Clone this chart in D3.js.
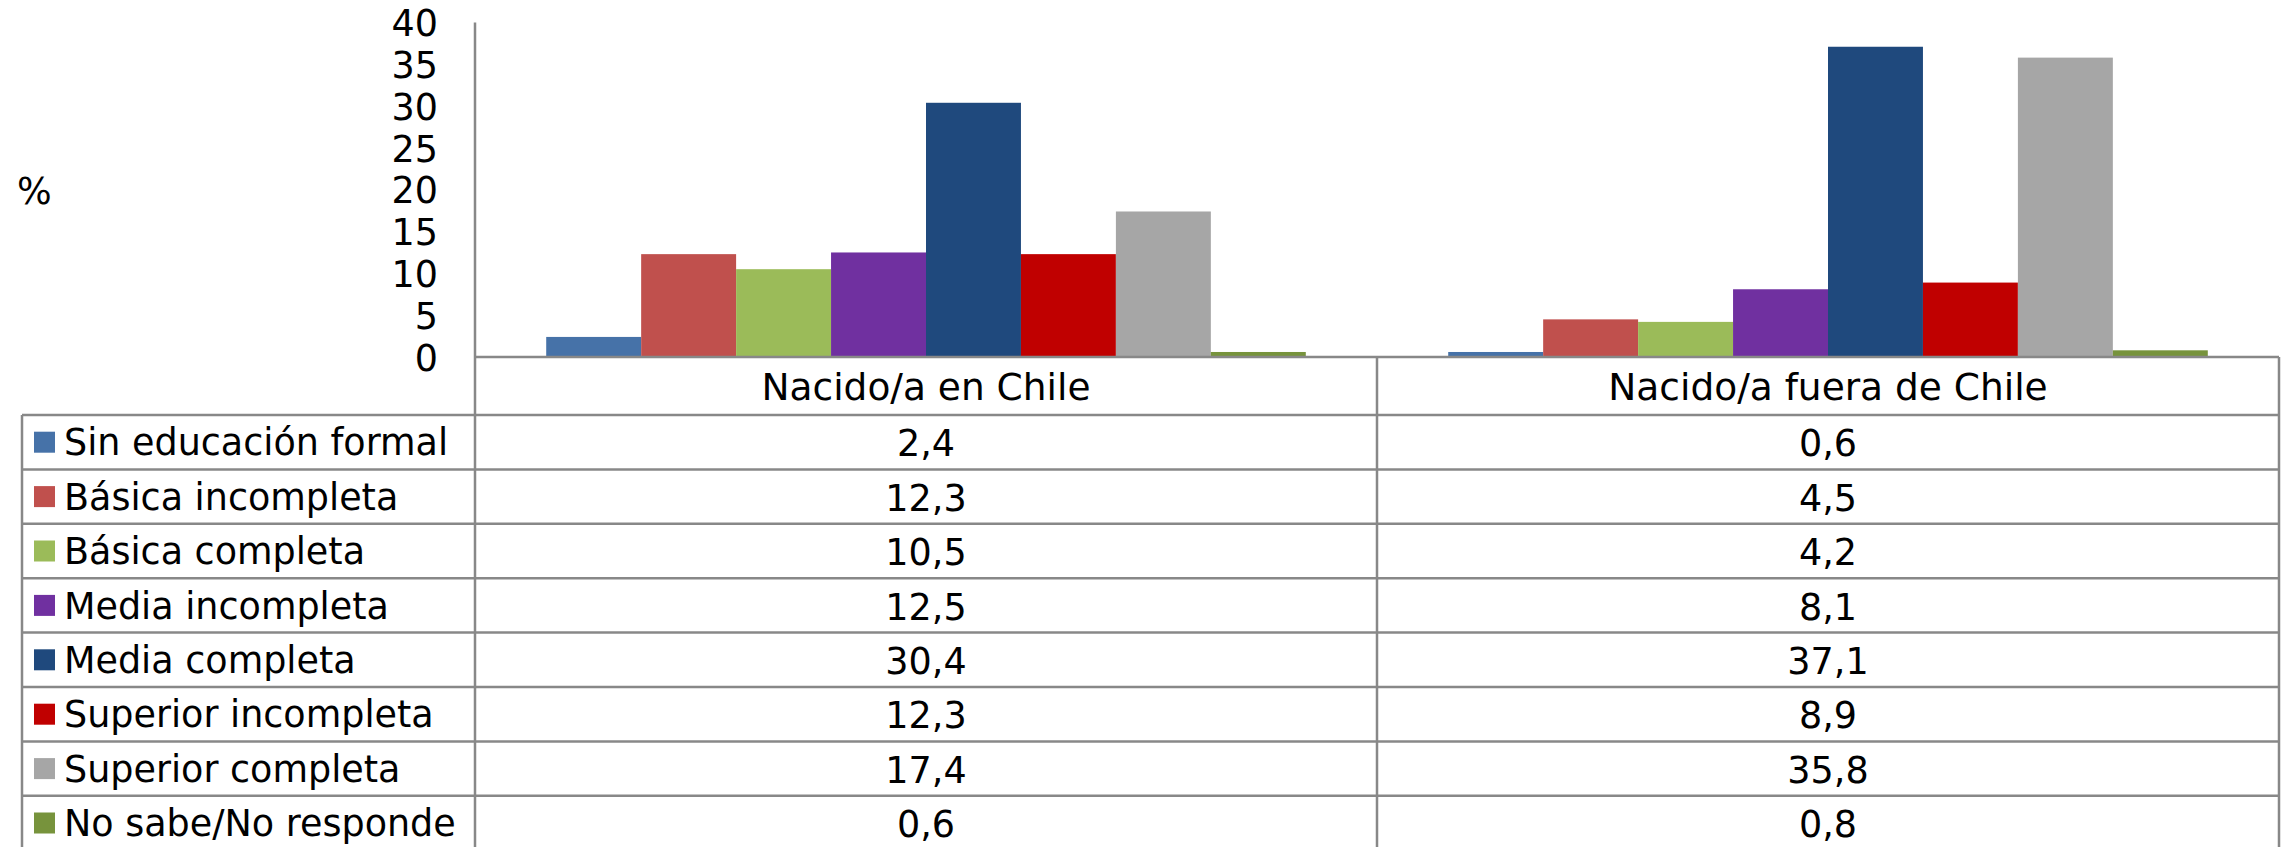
<!DOCTYPE html>
<html>
<head>
<meta charset="utf-8">
<script src="https://cdn.jsdelivr.net/npm/d3@7"></script>
<style>
  html, body { margin: 0; padding: 0; background: #fff; }
  svg text { font-family: "DejaVu Sans", Verdana, sans-serif; fill: #000; }
</style>
</head>
<body>
<svg id="chart" width="2288" height="847"></svg>
<script>
// Nivel educacional por lugar de nacimiento (%)
const categories = ["Nacido/a en Chile", "Nacido/a fuera de Chile"];
const seriesNames = [
  "Sin educación formal",
  "Básica incompleta",
  "Básica completa",
  "Media incompleta",
  "Media completa",
  "Superior incompleta",
  "Superior completa",
  "No sabe/No responde"
];
const valuesChile  = [2.4, 12.3, 10.5, 12.5, 30.4, 12.3, 17.4, 0.6];
const valuesFuera  = [0.6, 4.5, 4.2, 8.1, 37.1, 8.9, 35.8, 0.8];
const seriesColors = ["#4672A8", "#C0504D", "#9BBB59", "#7030A0", "#1F497D", "#C00000", "#A6A6A6", "#77933C"];
const yTicks = [0, 5, 10, 15, 20, 25, 30, 35, 40];
const yLabel = "%";

const byCategory = [valuesChile, valuesFuera];

const svg = d3.select("#chart");
const W = 2288, H = 847;
const plotLeft = 475, plotRight = 2279, plotTop = 22.5, baseY = 357;
const tableLeft = 22, headerBottom = 415, rowH = 54.4;
const lineColor = "#888888";
const fontSize = 36.5;

const x = d3.scaleBand().domain(categories).range([plotLeft, plotRight]).padding(0);
const xs = d3.scaleBand().domain(seriesNames).range([0, x.bandwidth()])
  .paddingInner(0).paddingOuter(0.75);
const y = d3.scaleLinear().domain([0, 40]).range([baseY, plotTop]);
const color = d3.scaleOrdinal().domain(seriesNames).range(seriesColors);

// bars
const groups = svg.append("g").selectAll("g")
  .data(categories)
  .join("g")
  .attr("transform", d => `translate(${x(d)},0)`);

groups.selectAll("rect")
  .data((d, i) => seriesNames.map((s, j) => ({ s, v: byCategory[i][j] })))
  .join("rect")
  .attr("x", d => xs(d.s))
  .attr("width", xs.bandwidth())
  .attr("y", d => y(d.v))
  .attr("height", d => baseY - y(d.v))
  .attr("fill", d => color(d.s));

// value axis
const yAxis = d3.axisLeft(y).tickValues(yTicks).tickSize(0).tickPadding(0);
const gy = svg.append("g").attr("transform", `translate(438,0)`).call(yAxis);
gy.select(".domain").remove();
gy.selectAll("text")
  .style("font-family", '"DejaVu Sans", Verdana, sans-serif')
  .style("font-size", fontSize + "px")
  .attr("fill", "#000")
  .attr("dy", "0.36em");

svg.append("text")
  .attr("x", 17)
  .attr("y", 191)
  .attr("dy", "0.36em")
  .style("font-size", fontSize + "px")
  .text(yLabel);

// data table grid
const grid = svg.append("g").attr("stroke", lineColor).attr("stroke-width", 2.5).attr("fill", "none");
const nRows = seriesNames.length;
const rowTop = i => headerBottom + i * rowH;

// vertical axis line extends down through the table
grid.append("line").attr("x1", plotLeft).attr("x2", plotLeft).attr("y1", plotTop).attr("y2", H);
// baseline / top of header
grid.append("line").attr("x1", plotLeft).attr("x2", plotRight).attr("y1", baseY).attr("y2", baseY);
// category dividers and right border
categories.forEach((c, i) => {
  const xr = x(c) + x.bandwidth();
  grid.append("line").attr("x1", xr).attr("x2", xr).attr("y1", baseY).attr("y2", H);
});
// left border of legend column
grid.append("line").attr("x1", tableLeft).attr("x2", tableLeft).attr("y1", headerBottom).attr("y2", H);
// row lines
d3.range(nRows).forEach(i => {
  grid.append("line").attr("x1", tableLeft).attr("x2", plotRight)
    .attr("y1", rowTop(i)).attr("y2", rowTop(i));
});

// header labels
svg.append("g").selectAll("text")
  .data(categories)
  .join("text")
  .attr("x", d => x(d) + x.bandwidth() / 2)
  .attr("y", (baseY + headerBottom) / 2)
  .attr("dy", "0.36em")
  .attr("text-anchor", "middle")
  .style("font-size", "37.5px")
  .text(d => d);

// legend column: swatch + series name
const legend = svg.append("g").selectAll("g")
  .data(seriesNames)
  .join("g")
  .attr("transform", (d, i) => `translate(0,${rowTop(i) + rowH / 2})`);

legend.append("rect")
  .attr("x", 34)
  .attr("y", -10.5)
  .attr("width", 21)
  .attr("height", 21)
  .attr("fill", d => color(d));

legend.append("text")
  .attr("x", 64)
  .attr("y", 0)
  .attr("dy", "0.36em")
  .style("font-size", "36.5px")
  .text(d => d);

// value cells
const fmt = v => d3.format(".1f")(v).replace(".", ",");
categories.forEach((c, ci) => {
  svg.append("g").selectAll("text")
    .data(byCategory[ci])
    .join("text")
    .attr("x", x(c) + x.bandwidth() / 2)
    .attr("y", (d, i) => rowTop(i) + rowH / 2 + 1)
    .attr("dy", "0.36em")
    .attr("text-anchor", "middle")
    .style("font-size", fontSize + "px")
    .text(d => fmt(d));
});
</script>
</body>
</html>
